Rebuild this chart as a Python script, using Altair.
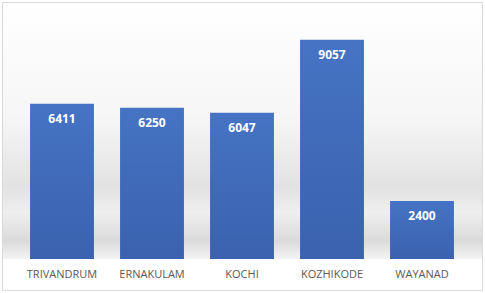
import altair as alt
import pandas as pd

cities = ["TRIVANDRUM", "ERNAKULAM", "KOCHI", "KOZHIKODE", "WAYANAD"]
values = [6411, 6250, 6047, 9057, 2400]

df = pd.DataFrame({"city": cities, "value": values})
one = pd.DataFrame({"a": [0]})

W, H = 450, 242

bg = alt.Chart(one).mark_rect(
    color=alt.Gradient(
        gradient="linear", x1=0, x2=0, y1=0, y2=1,
        stops=[
            alt.GradientStop(offset=0, color="#ffffff"),
            alt.GradientStop(offset=0.45, color="#f6f6f6"),
            alt.GradientStop(offset=0.72, color="#e2e2e2"),
            alt.GradientStop(offset=0.82, color="#efefef"),
            alt.GradientStop(offset=0.93, color="#dadada"),
            alt.GradientStop(offset=1, color="#f4f4f4"),
        ],
    )
).encode(x=alt.value(-15), x2=alt.value(465), y=alt.value(-15), y2=alt.value(H))

border = alt.Chart(one).mark_rect(
    fill=None, stroke="#d9d9d9", strokeWidth=1
).encode(x=alt.value(-14.5), x2=alt.value(465.5), y=alt.value(-14.5), y2=alt.value(273.5))

x = alt.X("city:N", sort=cities, title=None,
          scale=alt.Scale(paddingInner=0.29, paddingOuter=0.145),
          axis=alt.Axis(labelAngle=0, ticks=False, domain=False, labelPadding=9,
                        labelFontSize=11, labelColor="#595959",
                        labelFont="Open Sans"))
y = alt.Y("value:Q", scale=alt.Scale(domain=[0, 10000]), axis=None)

bars = alt.Chart(df).mark_bar(
    color=alt.Gradient(
        gradient="linear", x1=0, x2=0, y1=0, y2=1,
        stops=[
            alt.GradientStop(offset=0, color="#4673c4"),
            alt.GradientStop(offset=1, color="#3a62ae"),
        ],
    )
).encode(x=x, y=y)

text = alt.Chart(df).mark_text(
    color="white", fontWeight="bold", fontSize=12, font="Open Sans",
    dy=15, baseline="middle"
).encode(x=x, y=y, text="value:Q")

chart = alt.layer(bg, border, bars, text).properties(
    width=W, height=H,
    autosize=alt.AutoSizeParams(type="none"),
    padding={"left": 17, "top": 17, "right": 18, "bottom": 34},
).configure_view(stroke=None)

chart.save("out.html", embed_options={"renderer": "svg", "actions": False})
